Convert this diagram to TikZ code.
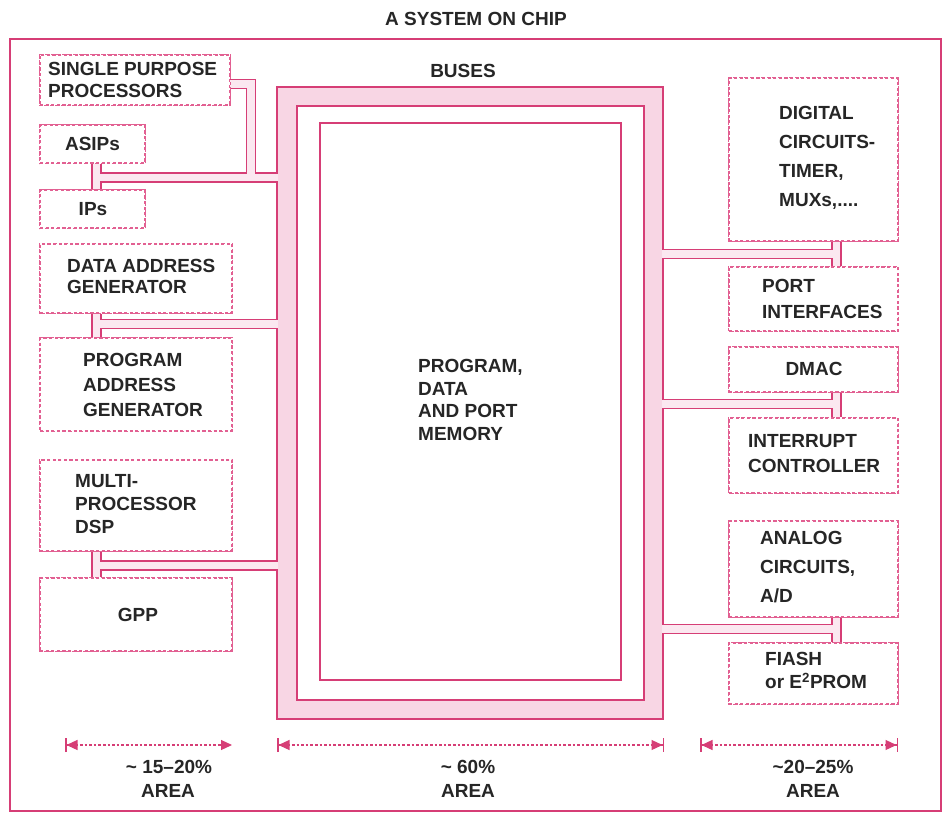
\documentclass[tikz,border=0pt]{standalone}
\usepackage{fontspec}
\setmainfont{Liberation Sans}
\usetikzlibrary{arrows.meta}
\definecolor{pinkline}{RGB}{214,62,118}
\definecolor{dashpink}{RGB}{226,96,146}
\definecolor{busfill}{RGB}{248,214,228}
\definecolor{chanfill}{RGB}{251,232,240}
\definecolor{txtcol}{RGB}{38,38,38}
\newcommand{\allpipes}[1]{%
  \draw[#1] (stA1) -- (stA2);
  \draw[#1] (jA) -- (jA -| busL);
  \draw[#1] (sppout) -- (sppout -| brA) -- (brA |- jA);
  \draw[#1] (stB1) -- (stB2);
  \draw[#1] (jB) -- (jB -| busL);
  \draw[#1] (stC1) -- (stC2);
  \draw[#1] (jC) -- (jC -| busL);
  \draw[#1] (stD1) -- (stD2);
  \draw[#1] (jD) -- (jD -| busR);
  \draw[#1] (stE1) -- (stE2);
  \draw[#1] (jE) -- (jE -| busR);
  \draw[#1] (stF1) -- (stF2);
  \draw[#1] (jF) -- (jF -| busR);
}
\begin{document}
\begin{tikzpicture}[x=1pt,y=-1pt,
  dbox/.style={draw=dashpink, dash pattern=on 3.2pt off 2.4pt, line width=1.2pt, rectangle, inner sep=0pt},
  txt/.style={text=txtcol, font=\fontsize{19}{#1}\selectfont\bfseries, align=left, inner sep=0pt},
  txt/.default=22,
  pipeout/.style={draw=pinkline, line width=10.8pt, line join=miter},
  pipein/.style={draw=chanfill, line width=7.6pt, line join=miter},
  busout/.style={draw=pinkline, line width=21.4pt, line join=miter},
  busin/.style={draw=busfill, line width=17.4pt, line join=miter},
  dimline/.style={draw=pinkline, line width=1.2pt, dash pattern=on 2.6pt off 2pt}
]
\useasboundingbox (0,0) rectangle (943,814);
% outer frame
\draw[pinkline, line width=1.6pt] (10,39) rectangle (941,811);
\node[txt] (title) at (476,19) {A SYSTEM ON CHIP};
% boxes
\node[dbox, minimum width=190pt, minimum height=50pt] (spp) at (135,80) {};
\node[dbox, minimum width=105pt, minimum height=38pt] (asip) at (92.5,144) {};
\node[dbox, minimum width=105pt, minimum height=38pt] (ips) at (92.5,209) {};
\node[dbox, minimum width=192pt, minimum height=69pt] (dag) at (136,278.5) {};
\node[dbox, minimum width=192pt, minimum height=93pt] (pag) at (136,384.5) {};
\node[dbox, minimum width=192pt, minimum height=91pt] (mdsp) at (136,505.5) {};
\node[dbox, minimum width=192pt, minimum height=73pt] (gpp) at (136,614.5) {};
\node[dbox, minimum width=169pt, minimum height=163pt] (dig) at (813.5,159.5) {};
\node[dbox, minimum width=169pt, minimum height=64pt] (port) at (813.5,299) {};
\node[dbox, minimum width=169pt, minimum height=45pt] (dmac) at (813.5,369.5) {};
\node[dbox, minimum width=169pt, minimum height=75pt] (intr) at (813.5,455.5) {};
\node[dbox, minimum width=169pt, minimum height=96pt] (anal) at (813.5,569) {};
\node[dbox, minimum width=169pt, minimum height=61pt] (flash) at (813.5,673.5) {};
% pipe coordinates
\coordinate (xl) at (96.5,0);
\coordinate (xr) at (836.5,0);
\coordinate (busL) at (287,0);
\coordinate (busR) at (653.5,0);
\coordinate (brA) at (251,0);
\coordinate (sppout) at (230,84);
\coordinate (stA1) at (asip.south -| xl);
\coordinate (stA2) at (ips.north -| xl);
\coordinate (jA) at (96.5,177.5);
\coordinate (stB1) at (dag.south -| xl);
\coordinate (stB2) at (pag.north -| xl);
\coordinate (jB) at (96.5,324);
\coordinate (stC1) at (mdsp.south -| xl);
\coordinate (stC2) at (gpp.north -| xl);
\coordinate (jC) at (96.5,565.5);
\coordinate (stD1) at (dig.south -| xr);
\coordinate (stD2) at (port.north -| xr);
\coordinate (jD) at (836.5,254);
\coordinate (stE1) at (dmac.south -| xr);
\coordinate (stE2) at (intr.north -| xr);
\coordinate (jE) at (836.5,404);
\coordinate (stF1) at (anal.south -| xr);
\coordinate (stF2) at (flash.north -| xr);
\coordinate (jF) at (836.5,629);
% outlines
\draw[busout] (287,96.5) rectangle (653.5,709.5);
\allpipes{pipeout}
% interiors
\allpipes{pipein}
\draw[busin] (287,96.5) rectangle (653.5,709.5);
% memory
\node[draw=pinkline, line width=1.5pt, fill=white, minimum width=301pt, minimum height=557pt, inner sep=0pt] (mem) at (470.5,401.5) {};
% redraw box borders on top of pipes
\foreach \b in {spp,asip,ips,dag,pag,mdsp,gpp,dig,port,dmac,intr,anal,flash}{
  \draw[draw=dashpink, dash pattern=on 3.2pt off 2.4pt, line width=1.2pt] (\b.north west) rectangle (\b.south east);
}
% texts
\node[txt] (buses) at (463,71) {BUSES};
\node[txt, anchor=west] (spp-t) at (48,80) {SINGLE PURPOSE\\PROCESSORS};
\node[txt] (asip-t) at (92.5,144) {ASIPs};
\node[txt] (ips-t) at (93,209) {IPs};
\node[txt=21, anchor=west] (dag-t) at (67,276.5) {DATA ADDRESS\\GENERATOR};
\node[txt=25, anchor=west] (pag-t) at (83,385) {PROGRAM\\ADDRESS\\GENERATOR};
\node[txt=23, anchor=west] (mdsp-t) at (75,504) {MULTI-\\PROCESSOR\\DSP};
\node[txt] (gpp-t) at (138,614.5) {GPP};
\node[txt=29, anchor=west] (dig-t) at (779,157.5) {DIGITAL\\CIRCUITS-\\TIMER,\\MUXs,....};
\node[txt=26, anchor=west] (port-t) at (762,299) {PORT\\INTERFACES};
\node[txt] (dmac-t) at (814,368.5) {DMAC};
\node[txt=25, anchor=west] (intr-t) at (748,453.5) {INTERRUPT\\CONTROLLER};
\node[txt=29, anchor=west] (anal-t) at (760,567) {ANALOG\\CIRCUITS,\\A/D};
\node[txt=23, anchor=west] (flash-t) at (765,670.5) {FIASH\\or E\textsuperscript{2}PROM};
\node[txt=22.5, anchor=west] (mem-t) at (418,400) {PROGRAM,\\DATA\\AND PORT\\MEMORY};
% dimension arrows
\coordinate (d1a) at (65,745); \coordinate (d1b) at (232,745);
\coordinate (d2a) at (277,745); \coordinate (d2b) at (664,745);
\coordinate (d3a) at (700,745); \coordinate (d3b) at (898,745);
\draw[dimline, {Bar[width=14pt,line width=1.5pt]Triangle[length=11pt,width=10pt]}-{Triangle[length=11pt,width=10pt]}] (d1a) -- (d1b);
\draw[dimline, {Bar[width=14pt,line width=1.5pt]Triangle[length=11pt,width=10pt]}-{Triangle[length=11pt,width=10pt]Bar[width=14pt,line width=1.5pt]}] (d2a) -- (d2b);
\draw[dimline, {Bar[width=14pt,line width=1.5pt]Triangle[length=11pt,width=10pt]}-{Triangle[length=11pt,width=10pt]Bar[width=14pt,line width=1.5pt]}] (d3a) -- (d3b);
\node[txt] (a1) at (169,767) {\textasciitilde{} 15--20\%};
\node[txt] (a1b) at (168,791) {AREA};
\node[txt] (a2) at (468,767) {\textasciitilde{} 60\%};
\node[txt] (a2b) at (468,791) {AREA};
\node[txt] (a3) at (813,767) {\textasciitilde20--25\%};
\node[txt] (a3b) at (813,791) {AREA};
\end{tikzpicture}
\end{document}
